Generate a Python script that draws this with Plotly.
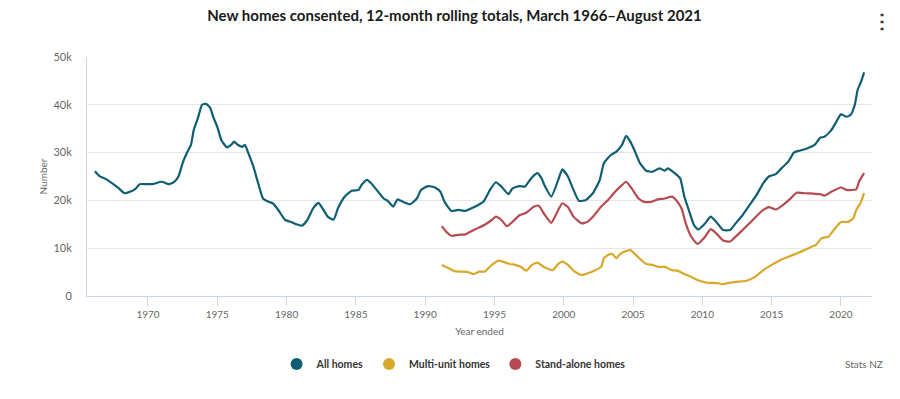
import plotly.graph_objects as go

# ---- Data (decimal year ended, number of homes) ----
all_years = [1966.17, 1966.5, 1967.0, 1967.4, 1967.9, 1968.3, 1968.7, 1969.1, 1969.4, 1969.9,
             1970.3, 1971.0, 1971.5, 1971.9, 1972.2, 1972.5, 1972.8, 1973.1, 1973.3, 1973.6,
             1973.9, 1974.2, 1974.5, 1974.7, 1975.0, 1975.3, 1975.7, 1976.0, 1976.2, 1976.5,
             1976.8, 1977.0, 1977.2, 1977.6, 1977.95, 1978.3, 1978.7, 1979.0, 1979.4, 1979.9,
             1980.4, 1980.7, 1981.1, 1981.5, 1981.9, 1982.3, 1982.6, 1983.0, 1983.4, 1983.7,
             1984.2, 1984.7, 1985.2, 1985.4, 1985.8, 1986.1, 1986.5, 1987.0, 1987.3, 1987.7,
             1988.0, 1988.4, 1988.9, 1989.4, 1989.7, 1990.2, 1990.7, 1991.1, 1991.4, 1991.9,
             1992.4, 1992.9, 1993.3, 1993.8, 1994.2, 1994.7, 1995.1, 1995.5, 1996.0, 1996.3,
             1996.8, 1997.2, 1997.4, 1997.7, 1998.1, 1998.4, 1998.6, 1999.1, 1999.6, 1999.9,
             2000.3, 2000.7, 2001.1, 2001.6, 2002.1, 2002.6, 2002.9, 2003.4, 2003.8, 2004.2,
             2004.5, 2004.8, 2005.1, 2005.5, 2005.95, 2006.4, 2006.9, 2007.3, 2007.5, 2008.0,
             2008.4, 2008.7, 2009.1, 2009.4, 2009.7, 2010.2, 2010.6, 2011.0, 2011.5, 2012.0,
             2012.4, 2012.9, 2013.4, 2013.9, 2014.4, 2014.8, 2015.3, 2015.7, 2016.2, 2016.6,
             2017.0, 2017.5, 2018.1, 2018.5, 2018.8, 2019.3, 2019.6, 2020.0, 2020.4, 2020.7,
             2021.0, 2021.2, 2021.45, 2021.67]
all_homes = [26100, 25100, 24400, 23600, 22500, 21500, 21800, 22400, 23400, 23400,
             23400, 23900, 23400, 23900, 25000, 27800, 29900, 31600, 34700, 37200,
             40000, 40200, 39300, 37500, 35400, 32600, 31100, 31600, 32300, 31600,
             31200, 31600, 30200, 27100, 23600, 20400, 19700, 19400, 18000, 15900,
             15400, 15000, 14700, 15900, 18300, 19500, 18300, 16500, 16000, 18300,
             20800, 22000, 22200, 23200, 24300, 23600, 22200, 20400, 19900, 18700,
             20200, 19700, 19200, 20400, 22200, 23000, 22700, 21800, 19700, 17800,
             18000, 17800, 18300, 19000, 19700, 22300, 23800, 22900, 21300, 22500,
             23000, 22900, 23600, 24800, 25700, 24600, 23200, 20800, 24300, 26500,
             25000, 22200, 19900, 20100, 21500, 24300, 27800, 29500, 30200, 31600,
             33500, 32300, 30500, 27800, 26200, 26000, 26700, 26200, 26700, 25700,
             24600, 20800, 17300, 14800, 13900, 15200, 16600, 15500, 13800, 13800,
             15200, 16900, 19000, 21100, 23600, 25000, 25500, 26700, 28100, 30000,
             30400, 30800, 31600, 33100, 33300, 34700, 36100, 38000, 37500, 37900,
             40000, 43100, 44800, 46800]

multi_years = [1991.2, 1991.7, 1992.1, 1992.6, 1993.1, 1993.5, 1993.9, 1994.3, 1994.8, 1995.3,
               1995.6, 1996.1, 1996.5, 1996.9, 1997.3, 1997.7, 1998.1, 1998.6, 1999.2, 1999.6,
               1999.9, 2000.3, 2000.8, 2001.3, 2001.7, 2002.2, 2002.7, 2002.9, 2003.2, 2003.5,
               2003.8, 2004.0, 2004.4, 2004.8, 2005.2, 2005.6, 2005.95, 2006.4, 2006.8, 2007.3,
               2007.8, 2008.2, 2008.7, 2009.2, 2009.6, 2010.3, 2011.0, 2011.5, 2012.0, 2012.6,
               2013.2, 2013.8, 2014.4, 2015.0, 2015.6, 2016.2, 2016.8, 2017.4, 2017.8, 2018.2,
               2018.6, 2019.1, 2019.4, 2019.8, 2020.0, 2020.5, 2020.9, 2021.1, 2021.4, 2021.67]
multi_unit = [6500, 5800, 5200, 5100, 5000, 4600, 5100, 5100, 6500, 7400,
              7200, 6700, 6500, 6100, 5300, 6500, 7000, 6000, 5400, 6700,
              7200, 6500, 5100, 4400, 4700, 5300, 6100, 7900, 8600, 8800,
              7900, 8600, 9300, 9600, 8600, 7500, 6700, 6500, 6100, 6100,
              5400, 5300, 4600, 4000, 3400, 2800, 2700, 2500, 2800, 3000,
              3200, 4000, 5400, 6500, 7500, 8200, 8900, 9600, 10200, 10700,
              12100, 12400, 13500, 14900, 15500, 15500, 16300, 18000, 19400, 21500]

stand_years = [1991.2, 1991.5, 1991.9, 1992.4, 1992.9, 1993.3, 1993.8, 1994.3, 1994.8, 1995.1,
               1995.5, 1995.9, 1996.3, 1996.8, 1997.3, 1997.8, 1998.2, 1998.6, 1999.1, 1999.6,
               1999.9, 2000.3, 2000.7, 2001.3, 2001.7, 2002.2, 2002.7, 2003.2, 2003.7, 2004.2,
               2004.5, 2004.9, 2005.4, 2005.8, 2006.3, 2006.8, 2007.3, 2007.8, 2008.1, 2008.5,
               2008.8, 2009.2, 2009.65, 2010.2, 2010.6, 2011.0, 2011.5, 2012.0, 2012.4, 2012.9,
               2013.4, 2013.9, 2014.4, 2014.8, 2015.3, 2015.8, 2016.3, 2016.8, 2017.4, 2018.0,
               2018.5, 2018.8, 2019.3, 2020.0, 2020.4, 2021.1, 2021.3, 2021.67]
stand_alone = [14600, 13500, 12600, 12800, 12900, 13500, 14200, 14900, 15900, 16600,
               15900, 14600, 15500, 16900, 17400, 18600, 18900, 17100, 15300, 18000,
               19400, 18600, 16600, 15200, 15500, 16900, 18700, 20100, 21800, 23200,
               23900, 22500, 20400, 19700, 19700, 20200, 20400, 20800, 20100, 18300,
               15200, 12400, 10900, 12400, 14000, 13100, 11600, 11400, 12400, 13800,
               15200, 16700, 18000, 18600, 18100, 19000, 20200, 21600, 21500, 21400,
               21300, 21000, 21800, 22700, 22200, 22300, 23900, 25700]

series_names = ["All homes", "Multi-unit homes", "Stand-alone homes"]
series_colors = ["#0f5e74", "#d9a82a", "#b64a50"]

x_ticks = [1970, 1975, 1980, 1985, 1990, 1995, 2000, 2005, 2010, 2015, 2020]
y_ticks = [0, 10000, 20000, 30000, 40000, 50000]
y_tick_text = ["0", "10k", "20k", "30k", "40k", "50k"]

FONT = "Lato, 'Open Sans', sans-serif"

fig = go.Figure()
for name, xs, ys, col in zip(series_names,
                              [all_years, multi_years, stand_years],
                              [all_homes, multi_unit, stand_alone],
                              series_colors):
    fig.add_trace(go.Scatter(x=xs, y=ys, mode="lines", name=name,
                             line=dict(color=col, width=2.2, shape="spline", smoothing=0.5),
                             showlegend=False))
# legend entries with circle symbols
for name, col in zip(series_names, series_colors):
    fig.add_trace(go.Scatter(x=[None], y=[None], mode="markers", name=name,
                             marker=dict(color=col, size=12, symbol="circle"),
                             showlegend=True))

fig.update_layout(
    width=900, height=399,
    margin=dict(l=87, r=28, t=57, b=103),
    paper_bgcolor="white", plot_bgcolor="white",
    font=dict(family=FONT, color="#666666", size=11),
    title=dict(text="<b>New homes consented, 12-month rolling totals, March 1966–August 2021</b>",
               x=0.505, xanchor="center", y=1 - 16 / 399, yanchor="middle",
               font=dict(family=FONT, size=15, color="#1a1a1a")),
    xaxis=dict(range=[1965.6, 2022.24], tickvals=x_ticks, ticktext=[str(t) for t in x_ticks],
               showgrid=False, zeroline=False, showline=True, linecolor="#ccd6eb", linewidth=1,
               ticks="outside", ticklen=9, tickcolor="#ccd6eb",
               tickfont=dict(size=10, color="#666666"),
               title=dict(text="Year ended", font=dict(size=10, color="#666666"), standoff=8)),
    yaxis=dict(range=[0, 50000], tickvals=y_ticks, ticktext=y_tick_text,
               showgrid=True, gridcolor="#e6e6e6", gridwidth=1, zeroline=False,
               showline=True, linecolor="#ccd6eb", linewidth=1,
               ticks="", ticklabelstandoff=12, tickfont=dict(size=11, color="#666666"),
               title=dict(text="Number", font=dict(size=10, color="#666666"), standoff=3)),
    legend=dict(orientation="h", x=0.467, xanchor="center", y=-0.285, yanchor="middle",
                font=dict(family=FONT, size=10.5, color="#333333", weight="bold"),
                itemwidth=30, bgcolor="rgba(0,0,0,0)"),
    annotations=[
        dict(text="Stats NZ", xref="paper", yref="paper", x=(885 - 87) / 785,
             y=(296 - 364) / 239, xanchor="right", yanchor="middle", showarrow=False,
             font=dict(size=10, color="#666666")),
        dict(text="⋮", xref="paper", yref="paper", x=(882 - 87) / 785,
             y=(296 - 20) / 239, xanchor="center", yanchor="middle", showarrow=False,
             font=dict(size=20, color="#333333", weight="bold")),
    ],
)

fig.write_html("out.html", config={"displayModeBar": False},
               post_script="document.body.style.margin='0';document.body.style.overflow='hidden';")
